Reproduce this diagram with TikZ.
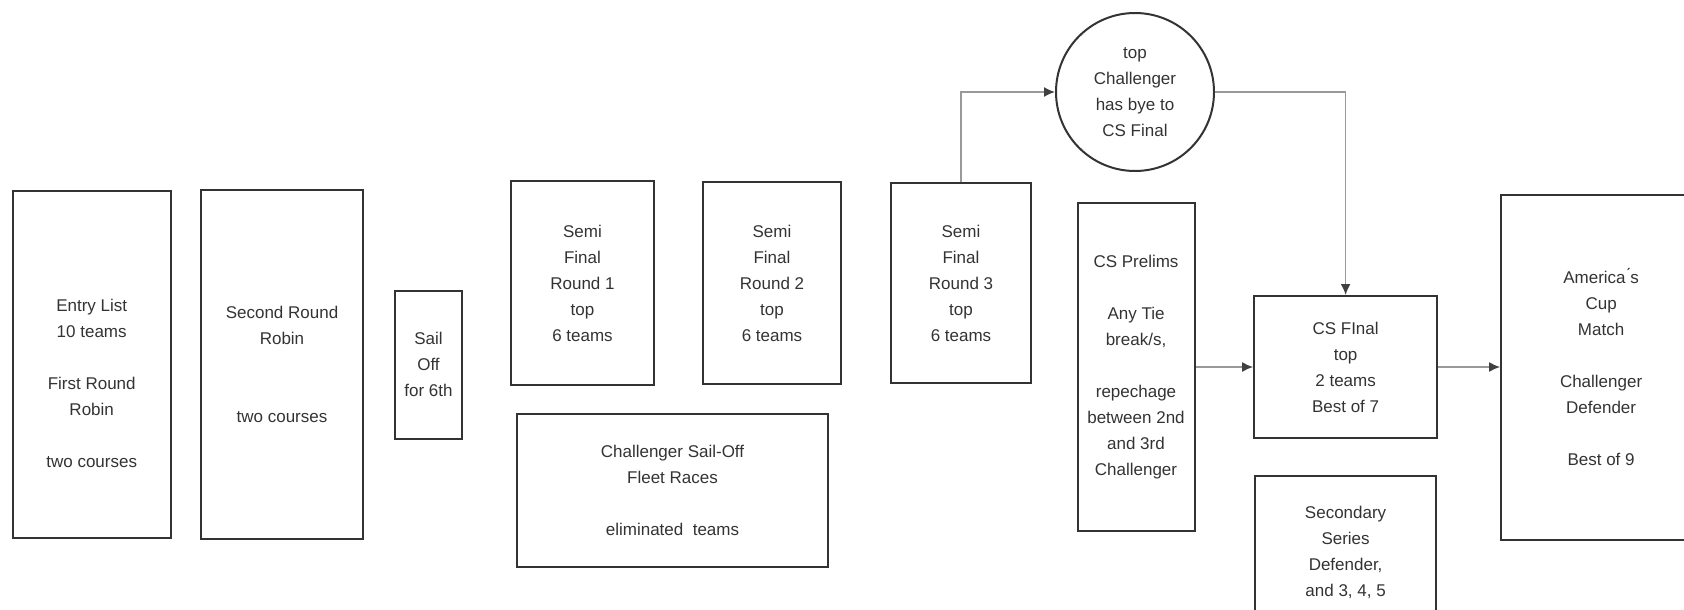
\documentclass[tikz,border=0pt]{standalone}
\usepackage{fontspec}
\setmainfont{Liberation Sans}
\usepackage{xcolor}
\usepackage{tikz}
\usetikzlibrary{positioning, arrows.meta}

\begin{document}
\begin{tikzpicture}[
        x=1pt, y=-1pt,
        every node/.style={font=\fontsize{17}{26}\selectfont, text=black!80},
        stage/.style={draw=black!80, line width=2pt, inner sep=0pt, align=center},
        hub/.style={draw=black!80, line width=2pt, circle, inner sep=0pt, minimum size=158pt, align=center},
        arrow/.style={draw=black!40, line width=1.6pt, -{Latex[length=11pt, width=10pt, color=black!75]}}
    ]
    \useasboundingbox (0,0) rectangle (1684,610);
    \clip (0,0) rectangle (1684,610);

    % Nodes
    \node[stage, minimum width=158pt, minimum height=347pt] (entry) at (91.7,364.5)
        {\rule{0pt}{50pt}Entry List\\10 teams\\[26pt]First Round\\Robin\\[26pt]two courses};
    \node[stage, minimum width=162pt, minimum height=349pt, right=28.3pt of entry] (second)
        {Second Round\\Robin\\[52pt]two courses};
    \node[stage, minimum width=67pt, minimum height=148pt, right=30pt of second] (sailoff)
        {Sail\\Off\\for 6th};
    \node[stage, minimum width=143pt, minimum height=204pt] (semi1) at (582.5,283)
        {Semi\\Final\\Round 1\\top\\6 teams};
    \node[stage, minimum width=138pt, minimum height=202pt, right=47pt of semi1] (semi2)
        {Semi\\Final\\Round 2\\top\\6 teams};
    \node[stage, minimum width=140pt, minimum height=200pt, right=48pt of semi2] (semi3)
        {Semi\\Final\\Round 3\\top\\6 teams};
    \node[stage, minimum width=311pt, minimum height=153pt] (fleet) at (672.5,490)
        {Challenger Sail-Off\\Fleet Races\\[26pt]eliminated\ \ teams};
    \node[hub] (bye) at (1135,92)
        {top\\Challenger\\has bye to\\CS Final};
    \node[stage, minimum width=117pt, minimum height=328pt] (prelims) at (1136,367)
        {CS Prelims\\[26pt]Any Tie\\break/s,\\[26pt]repechage\\between 2nd\\and 3rd\\Challenger};
    \node[stage, minimum width=183pt, minimum height=142pt, right=57.6pt of prelims] (csfinal)
        {CS FInal\\top\\2 teams\\Best of 7};
    \node[stage, minimum width=181pt, minimum height=153pt, below=36pt of csfinal] (secondary)
        {Secondary\\Series\\Defender,\\and 3, 4, 5};
    \node[stage, minimum width=200pt, minimum height=345pt, right=62pt of csfinal] (cup)
        {America\'{}s\\Cup\\Match\\[26pt]Challenger\\Defender\\[26pt]Best of 9};

    % Arrows
    \draw[arrow] (semi3.north) |- (bye.west);
    \draw[arrow] (bye.east) -| (csfinal.north);
    \draw[arrow] (prelims) -- (csfinal);
    \draw[arrow] (csfinal) -- (cup);

\end{tikzpicture}
\end{document}
